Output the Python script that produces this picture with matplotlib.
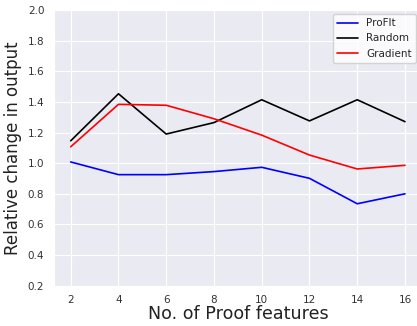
import matplotlib
matplotlib.use("Agg")
import matplotlib.pyplot as plt
import seaborn as sns

num_features = [2, 4, 6, 8, 10, 12, 14, 16]
profit = [1.008, 0.925, 0.925, 0.945, 0.973, 0.901, 0.735, 0.800]
random_sel = [1.146, 1.453, 1.190, 1.265, 1.414, 1.276, 1.414, 1.271]
gradient = [1.107, 1.384, 1.378, 1.290, 1.183, 1.053, 0.962, 0.986]

sns.set_style("darkgrid")
plt.rcParams['font.family'] = ['DejaVu Sans']

fig = plt.figure(figsize=(4.17, 3.26), dpi=100)
ax = fig.add_axes([54 / 417, 1 - 285.7 / 326, (421.7 - 54) / 417, (285.7 - 10) / 326])

ax.plot(num_features, profit, color="blue", lw=1.2, label="ProFIt")
ax.plot(num_features, random_sel, color="black", lw=1.2, label="Random")
ax.plot(num_features, gradient, color="red", lw=1.2, label="Gradient")

ax.set_xlim(1.3, 16.7)
ax.set_ylim(0.2, 2.0)
ax.set_xticks(num_features)
ax.set_yticks([0.2, 0.4, 0.6, 0.8, 1.0, 1.2, 1.4, 1.6, 1.8, 2.0])
ax.tick_params(labelsize=7.5, labelcolor="#333333")
ax.set_xlabel("No. of Proof features", fontsize=12.6, labelpad=0, color="#222222")
ax.set_ylabel("Relative change in output", fontsize=12, labelpad=4, color="#222222")
leg = ax.legend(loc="upper right", bbox_to_anchor=(416 / 417, 1 - 14 / 326),
                bbox_transform=fig.transFigure, fontsize=7.5, borderaxespad=0,
                facecolor="white", framealpha=0.8)

fig.savefig("out.png", dpi=100)
